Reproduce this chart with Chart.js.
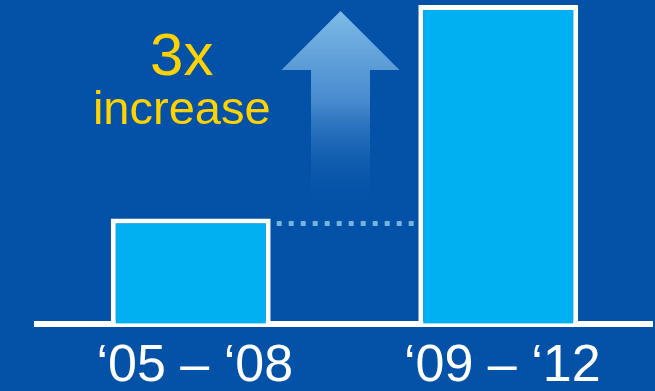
<!DOCTYPE html>
<html>
<head>
<meta charset="utf-8">
<script src="https://cdn.jsdelivr.net/npm/chart.js@4.4.1/dist/chart.umd.min.js"></script>
<style>
  html, body { margin: 0; padding: 0; background: #0352A8; }
  #wrap { width: 655px; height: 391px; position: relative; }
</style>
</head>
<body>
<div id="wrap"><canvas id="increaseChart"></canvas></div>
<script>
const categories = ['\u201805 \u2013 \u201808', '\u201809 \u2013 \u201812'];
const values = [1, 3.03];
const calloutLines = ['3x', 'increase'];

const FONT = "'Liberation Sans', Arial, sans-serif";

// dotted level line, rising arrow and the "3x increase" callout
const decorPlugin = {
    id: 'decor',
    afterDatasetsDraw(chart) {
        const ctx = chart.ctx;
        const y = chart.scales.y;
        const x = chart.scales.x;
        const bars = chart.getDatasetMeta(0).data;

        const levelY = y.getPixelForValue(values[0]) + 5;
        const x0 = bars[0].x + bars[0].width / 2 + 6;
        const x1 = bars[1].x - bars[1].width / 2 - 4;

        ctx.save();
        ctx.strokeStyle = 'rgba(140, 195, 235, 0.85)';
        ctx.lineWidth = 5;
        ctx.setLineDash([5, 7]);
        ctx.beginPath();
        ctx.moveTo(x0, levelY);
        ctx.lineTo(x1, levelY);
        ctx.stroke();
        ctx.restore();

        // arrow
        const cx = (x.getPixelForValue(0) + x.getPixelForValue(1)) / 2 - 4;
        const tip = y.getPixelForValue(values[1]) + 6;
        const headBase = tip + 59;
        const bottom = levelY - 13;
        const grad = ctx.createLinearGradient(0, tip, 0, bottom);
        grad.addColorStop(0, 'rgba(125, 188, 230, 1)');
        grad.addColorStop(0.45, 'rgba(80, 145, 210, 0.9)');
        grad.addColorStop(1, 'rgba(3, 82, 168, 0)');
        ctx.save();
        ctx.fillStyle = grad;
        ctx.beginPath();
        ctx.moveTo(cx, tip);
        ctx.lineTo(cx + 59, headBase);
        ctx.lineTo(cx + 29.5, headBase);
        ctx.lineTo(cx + 29.5, bottom);
        ctx.lineTo(cx - 29.5, bottom);
        ctx.lineTo(cx - 29.5, headBase);
        ctx.lineTo(cx - 59, headBase);
        ctx.closePath();
        ctx.fill();
        ctx.restore();

        // callout text
        const tx = bars[0].x - 9;
        ctx.save();
        ctx.fillStyle = '#FFD200';
        ctx.textAlign = 'center';
        ctx.textBaseline = 'alphabetic';
        ctx.font = '60px ' + FONT;
        ctx.fillText(calloutLines[0], tx, 75);
        ctx.font = '47px ' + FONT;
        ctx.fillText(calloutLines[1], tx, 124);
        ctx.restore();
    }
};

new Chart(document.getElementById('increaseChart'), {
    type: 'bar',
    data: {
        labels: categories,
        datasets: [{
            data: values,
            backgroundColor: '#00B0F0',
            borderColor: '#FFFFFF',
            borderWidth: 5,
            borderSkipped: 'bottom',
            barPercentage: 0.52,
            categoryPercentage: 1
        }]
    },
    options: {
        responsive: true,
        maintainAspectRatio: false,
        animation: false,
        layout: { padding: { left: 37, right: 3, top: 5, bottom: -18 } },
        plugins: {
            legend: { display: false },
            tooltip: { enabled: false }
        },
        scales: {
            x: {
                grid: { display: false, drawTicks: false },
                border: { display: true, color: '#FFFFFF', width: 6 },
                ticks: {
                    color: '#FFFFFF',
                    font: { family: FONT, size: 52, lineHeight: 1.1 },
                    padding: 14,
                    labelOffset: 4,
                    maxRotation: 0
                }
            },
            y: {
                display: false,
                min: 0,
                max: 3.03
            }
        }
    },
    plugins: [decorPlugin]
});
</script>
</body>
</html>
